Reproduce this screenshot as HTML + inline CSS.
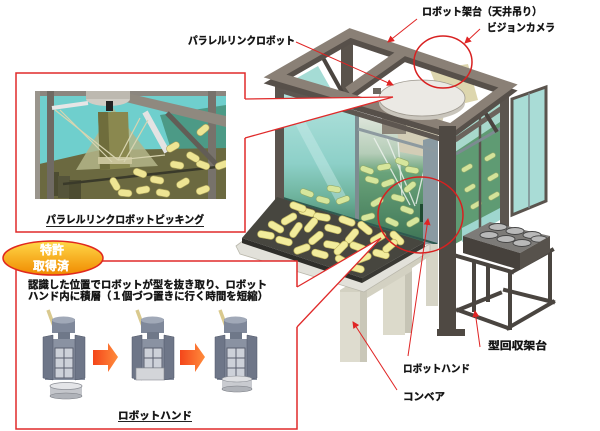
<!DOCTYPE html>
<html><head><meta charset="utf-8">
<style>
html,body{margin:0;padding:0;background:#fff;}
svg{display:block;}
text{font-family:"Liberation Sans","Noto Sans CJK JP",sans-serif;font-weight:bold;fill:#141414;stroke:#141414;stroke-width:0.35;}
</style></head><body>
<svg width="600" height="431" viewBox="0 0 600 431" xmlns="http://www.w3.org/2000/svg">
<defs>
 <linearGradient id="glassL" x1="0" y1="0" x2="0" y2="1">
  <stop offset="0" stop-color="#b3e3de"/><stop offset="0.55" stop-color="#8dd0c8"/><stop offset="0.8" stop-color="#6fb49e"/><stop offset="1" stop-color="#4f8e74"/>
 </linearGradient>
 <linearGradient id="glassR" x1="0" y1="0" x2="0" y2="1">
  <stop offset="0" stop-color="#dfe6dc"/><stop offset="0.3" stop-color="#b5cdb8"/><stop offset="0.45" stop-color="#6aa37a"/><stop offset="1" stop-color="#3e7556"/>
 </linearGradient>
 <linearGradient id="ovalG" x1="0" y1="0" x2="0" y2="1">
  <stop offset="0" stop-color="#ffd848"/><stop offset="1" stop-color="#f08a00"/>
 </linearGradient>
 <linearGradient id="arrowG" x1="0" y1="0" x2="1" y2="0">
  <stop offset="0" stop-color="#f4461a"/><stop offset="1" stop-color="#ff8c3c"/>
 </linearGradient>
 <marker id="ah" markerWidth="7" markerHeight="7" refX="6" refY="3.5" orient="auto" markerUnits="userSpaceOnUse">
  <path d="M0,0 L7,3.5 L0,7 z" fill="#e02424"/>
 </marker>
 <clipPath id="insetClip"><rect x="35" y="91" width="191" height="108"/></clipPath>
</defs>
<rect width="600" height="431" fill="#fff"/>

<!-- ===== MAIN MACHINE ===== -->
<!-- right extension door -->
<polygon points="512,99 546,87 546,201 512,215" fill="#a9dcd6" stroke="#5b544e" stroke-width="3"/>
<line x1="529" y1="93" x2="529" y2="208" stroke="#7a8a8e" stroke-width="1.5"/>
<!-- right face -->
<polygon points="455,130 503,96 503,218 455,244" fill="#5f9b73"/>
<polygon points="455,126 503,94 503,120 455,152" fill="#a8d8cc"/>
<polygon points="462,228 500,208 500,220 462,242" fill="#9fd6cf"/>
<g fill="#d3e39a" stroke="#94ab6c" stroke-width="0.6">
 <rect x="-6" y="-2.5" width="12" height="5" rx="2.5" transform="translate(467,168) rotate(-30)"/>
 <rect x="-6" y="-2.5" width="12" height="5" rx="2.5" transform="translate(490,157) rotate(-30)"/>
 <rect x="-6" y="-2.5" width="12" height="5" rx="2.5" transform="translate(470,188) rotate(-30)"/>
 <rect x="-6" y="-2.5" width="12" height="5" rx="2.5" transform="translate(493,177) rotate(-30)"/>
 <rect x="-6" y="-2.5" width="12" height="5" rx="2.5" transform="translate(476,205) rotate(-30)"/>
 <rect x="-6" y="-2.5" width="12" height="5" rx="2.5" transform="translate(494,196) rotate(-30)"/>
</g>
<line x1="480" y1="112" x2="480" y2="233" stroke="#5b544e" stroke-width="2.5"/>
<line x1="455" y1="140" x2="505" y2="106" stroke="#6b635c" stroke-width="5"/>
<line x1="456" y1="154" x2="503" y2="127" stroke="#7c8b91" stroke-width="3"/>

<!-- see-through top openings -->
<polygon points="283,86 318,66 335,96 290,104" fill="#a5dcd5"/>
<rect x="341" y="40" width="12" height="54" fill="#5a534c"/>
<line x1="322" y1="56" x2="342" y2="92" stroke="#4b4540" stroke-width="4"/>
<polygon points="430,70 468,64 478,100 445,108" fill="#ddd6ae"/>
<line x1="480" y1="104" x2="497" y2="132" stroke="#4b4540" stroke-width="4"/>

<!-- front face panels -->
<polygon points="283,92 356,114 356,222 283,199" fill="url(#glassL)"/>
<polygon points="292,118 300,112 346,196 337,203" fill="#cdeeea" opacity="0.45"/>
<polygon points="358,115 424,135 424,243 358,222" fill="url(#glassR)"/>
<!-- robot internals -->
<polygon points="395,115 445,112 432,158 400,152" fill="#d3cdb6"/>
<rect x="382" y="114" width="24" height="20" fill="#8b8478"/>
<g stroke="#eef3ee" stroke-width="1.3" opacity="0.85">
 <line x1="374" y1="138" x2="410" y2="205"/>
 <line x1="386" y1="136" x2="415" y2="206"/>
 <line x1="398" y1="140" x2="402" y2="196"/>
 <line x1="430" y1="145" x2="416" y2="204"/>
</g>
<!-- interior pills -->
<g fill="#d6e69c" stroke="#8fa868" stroke-width="0.6">
 <rect x="-7" y="-3" width="14" height="6" rx="3" transform="translate(372,180) rotate(15)"/>
 <rect x="-7" y="-3" width="14" height="6" rx="3" transform="translate(388,183) rotate(-20)"/>
 <rect x="-7" y="-3" width="14" height="6" rx="3" transform="translate(367,170) rotate(20)"/>
 <rect x="-7" y="-3" width="14" height="6" rx="3" transform="translate(377,202) rotate(-30)"/>
 <rect x="-7" y="-3" width="14" height="6" rx="3" transform="translate(398,198) rotate(15)"/>
 <rect x="-7" y="-3" width="14" height="6" rx="3" transform="translate(410,187) rotate(-40)"/>
 <rect x="-7" y="-3" width="14" height="6" rx="3" transform="translate(412,170) rotate(10)"/>
 <rect x="-7" y="-3" width="14" height="6" rx="3" transform="translate(407,210) rotate(20)"/>
 <rect x="-7" y="-3" width="14" height="6" rx="3" transform="translate(368,217) rotate(-15)"/>
 <rect x="-7" y="-3" width="14" height="6" rx="3" transform="translate(392,222) rotate(25)"/>
 <rect x="-7" y="-3" width="14" height="6" rx="3" transform="translate(413,222) rotate(-30)"/>
 <rect x="-7" y="-3" width="14" height="6" rx="3" transform="translate(402,162) rotate(20)"/>
 <rect x="-7" y="-3" width="14" height="6" rx="3" transform="translate(384,167) rotate(-10)"/>
 <rect x="-7" y="-3" width="14" height="6" rx="3" transform="translate(323,200) rotate(15)"/>
 <rect x="-7" y="-3" width="14" height="6" rx="3" transform="translate(343,200) rotate(-20)"/>
 <rect x="-7" y="-3" width="14" height="6" rx="3" transform="translate(334,189) rotate(10)"/>
 <rect x="-7" y="-3" width="14" height="6" rx="3" transform="translate(307,193) rotate(20)"/>
</g>
<rect x="420" y="204" width="3" height="18" fill="#1e4a30"/>
<!-- front frame members -->
<polygon points="423,140 438,136 438,248 423,244" fill="#8a9aa2"/>
<line x1="357" y1="112" x2="357" y2="222" stroke="#7d8b90" stroke-width="4"/>
<line x1="358" y1="129" x2="436" y2="151" stroke="#8d9aa0" stroke-width="3"/>
<line x1="279" y1="90" x2="447" y2="141" stroke="#5d5650" stroke-width="5"/>
<line x1="283" y1="198" x2="437" y2="244" stroke="#2f5a50" stroke-width="2"/>
<!-- posts -->
<rect x="275" y="78" width="9" height="126" fill="#5b544e"/>
<rect x="500" y="86" width="9" height="142" fill="#5b544e"/>

<!-- top frame -->
<path d="M275,76 L350,33 L508,86 L451,128 Z M403,52 L348,91" fill="none" stroke="#57504a" stroke-width="9" stroke-linejoin="miter" transform="translate(0,6)"/>
<path d="M275,76 L350,33 L508,86 L451,128 Z M403,52 L348,91" fill="none" stroke="#8a8076" stroke-width="9" stroke-linejoin="miter"/>
<!-- dome -->
<ellipse cx="422" cy="103" rx="43" ry="17" fill="#c9c5bc"/>
<ellipse cx="422" cy="98" rx="43" ry="18" fill="#ebe9e4" stroke="#9e998f" stroke-width="0.8"/>
<rect x="373" y="88" width="8" height="6" fill="#6d675f"/>

<!-- conveyor under-structure -->
<rect x="426" y="244" width="12" height="62" fill="#d6d4c6"/>
<rect x="383" y="262" width="22" height="73" fill="#dcdacb"/>
<rect x="405" y="260" width="7" height="73" fill="#c6c4b5"/>
<polygon points="340,290 383,264 412,262 412,271 367,298 340,298" fill="#d3d1c2"/>
<rect x="340" y="292" width="20" height="70" fill="#dedccf"/>
<rect x="360" y="290" width="7" height="72" fill="#c9c7b8"/>
<polygon points="405,262 430,246 430,256 412,268" fill="#d0cebf"/>
<polygon points="236,246 244,240 362,281 430,244 430,251 364,292 240,254" fill="#e2e1da" stroke="#b9b7ab" stroke-width="0.8"/>
<!-- tray -->
<polygon points="242,238 277,197 425,242 362,278" fill="#47463f"/>
<polygon points="242,238 362,278 362,283 242,243" fill="#2f2e2a"/>
<polygon points="362,278 425,242 425,247 362,283" fill="#3a3934"/>
<g fill="#f2ec9c" stroke="#bdb25e" stroke-width="0.7">
 <rect x="-8.5" y="-3.5" width="17" height="7" rx="3.5" transform="translate(307,212) rotate(15)"/>
 <rect x="-8.5" y="-3.5" width="17" height="7" rx="3.5" transform="translate(289,219) rotate(-30)"/>
 <rect x="-8.5" y="-3.5" width="17" height="7" rx="3.5" transform="translate(322,217) rotate(10)"/>
 <rect x="-8.5" y="-3.5" width="17" height="7" rx="3.5" transform="translate(276,227) rotate(30)"/>
 <rect x="-8.5" y="-3.5" width="17" height="7" rx="3.5" transform="translate(296,230) rotate(-55)"/>
 <rect x="-8.5" y="-3.5" width="17" height="7" rx="3.5" transform="translate(311,225) rotate(-50)"/>
 <rect x="-8.5" y="-3.5" width="17" height="7" rx="3.5" transform="translate(333,229) rotate(15)"/>
 <rect x="-8.5" y="-3.5" width="17" height="7" rx="3.5" transform="translate(347,221) rotate(20)"/>
 <rect x="-8.5" y="-3.5" width="17" height="7" rx="3.5" transform="translate(266,235) rotate(10)"/>
 <rect x="-8.5" y="-3.5" width="17" height="7" rx="3.5" transform="translate(284,241) rotate(15)"/>
 <rect x="-8.5" y="-3.5" width="17" height="7" rx="3.5" transform="translate(316,238) rotate(-40)"/>
 <rect x="-8.5" y="-3.5" width="17" height="7" rx="3.5" transform="translate(332,245) rotate(10)"/>
 <rect x="-8.5" y="-3.5" width="17" height="7" rx="3.5" transform="translate(352,236) rotate(-50)"/>
 <rect x="-8.5" y="-3.5" width="17" height="7" rx="3.5" transform="translate(365,228) rotate(40)"/>
 <rect x="-8.5" y="-3.5" width="17" height="7" rx="3.5" transform="translate(302,249) rotate(-20)"/>
 <rect x="-8.5" y="-3.5" width="17" height="7" rx="3.5" transform="translate(320,254) rotate(15)"/>
 <rect x="-8.5" y="-3.5" width="17" height="7" rx="3.5" transform="translate(341,248) rotate(-45)"/>
 <rect x="-8.5" y="-3.5" width="17" height="7" rx="3.5" transform="translate(358,247) rotate(20)"/>
 <rect x="-8.5" y="-3.5" width="17" height="7" rx="3.5" transform="translate(378,238) rotate(-30)"/>
 <rect x="-8.5" y="-3.5" width="17" height="7" rx="3.5" transform="translate(397,238) rotate(45)"/>
 <rect x="-8.5" y="-3.5" width="17" height="7" rx="3.5" transform="translate(343,261) rotate(30)"/>
 <rect x="-8.5" y="-3.5" width="17" height="7" rx="3.5" transform="translate(363,258) rotate(-20)"/>
 <rect x="-8.5" y="-3.5" width="17" height="7" rx="3.5" transform="translate(381,254) rotate(15)"/>
 <rect x="-8.5" y="-3.5" width="17" height="7" rx="3.5" transform="translate(390,246) rotate(-40)"/>
 <rect x="-8.5" y="-3.5" width="17" height="7" rx="3.5" transform="translate(356,268) rotate(15)"/>
 <rect x="-8.5" y="-3.5" width="17" height="7" rx="3.5" transform="translate(298,207) rotate(20)"/>
</g>

<!-- mold recovery rack -->
<g stroke="#4a4540" stroke-width="4" fill="none" stroke-linecap="square">
 <line x1="457" y1="256" x2="512" y2="272"/>
 <line x1="512" y1="272" x2="552" y2="250"/>
 <line x1="474" y1="262" x2="474" y2="310"/>
 <line x1="510" y1="272" x2="510" y2="328"/>
 <line x1="550" y1="251" x2="550" y2="303"/>
 <line x1="488" y1="266" x2="488" y2="300"/>
 <line x1="458" y1="310" x2="508" y2="328"/>
 <line x1="508" y1="328" x2="553" y2="302"/>
 <line x1="553" y1="302" x2="505" y2="290"/>
 <line x1="458" y1="310" x2="500" y2="293"/>
</g>
<polygon points="463,236 490,222 550,236 520,253" fill="#7d7b78"/>
<g fill="#b9b9b9" stroke="#444" stroke-width="0.9">
 <ellipse cx="498" cy="227" rx="9" ry="3.5"/>
 <ellipse cx="515" cy="231" rx="9" ry="3.5"/>
 <ellipse cx="532" cy="235" rx="9" ry="3.5"/>
 <ellipse cx="489" cy="235" rx="9" ry="3.5"/>
 <ellipse cx="506" cy="239" rx="9" ry="3.5"/>
 <ellipse cx="522" cy="243" rx="9" ry="3.5"/>
 <ellipse cx="539" cy="239" rx="8" ry="3.2"/>
</g>
<polygon points="463,236 520,253 520,270 463,253" fill="#46413c"/>
<polygon points="520,253 550,236 550,252 520,270" fill="#57524c"/>
<!-- front-right post -->
<rect x="439" y="126" width="17" height="210" fill="#4f4943"/>
<rect x="437" y="329" width="28" height="7" fill="#4f4943"/>

<!-- ===== CALLOUT 1 ===== -->
<rect x="16" y="73" width="229" height="159" fill="#fff"/>
<polygon points="245,99 393,97 245,138" fill="#fff"/>
<path d="M245,99 L245,73 L16,73 L16,232 L245,232 L245,138" fill="none" stroke="#e02a2a" stroke-width="1.5"/>
<line x1="245" y1="99" x2="393" y2="97" stroke="#e02a2a" stroke-width="1.3"/>
<line x1="245" y1="138" x2="393" y2="97" stroke="#e02a2a" stroke-width="1.3"/>
<!-- inset photo -->
<g clip-path="url(#insetClip)">
 <rect x="35" y="91" width="191" height="108" fill="#6fcfcd"/>
 <polygon points="160,115 226,105 226,172 175,162" fill="#4c9a86"/>
 <polygon points="35,165 100,150 226,148 226,199 35,199" fill="#6b6940"/>
 <polygon points="113,108 76,170 158,166" fill="#b4b68a" opacity="0.85"/>
 <polygon points="98,112 128,112 130,168 100,170" fill="#8a884f"/>
 <polygon points="98,112 108,112 110,169 100,170" fill="#6f6d3c"/>
 <rect x="98" y="157" width="34" height="7" fill="#c9c49a"/>
 <rect x="47" y="172" width="12" height="24" fill="#4d4c31"/>
 <rect x="58" y="176" width="12" height="22" fill="#55543a"/>
 <rect x="69" y="180" width="12" height="20" fill="#4d4c31"/>
 <rect x="35" y="91" width="191" height="5" fill="#8b867f"/>
 <rect x="35" y="91" width="5" height="108" fill="#9a958d"/>
 <rect x="47" y="91" width="7" height="108" fill="#6f6a63"/>
 <rect x="208" y="91" width="8" height="108" fill="#77726b"/>
 <polygon points="118,91 226,116 226,127 118,100" fill="#8f897f"/>
 <line x1="167" y1="113" x2="218" y2="166" stroke="#625d56" stroke-width="5"/>
 <line x1="63" y1="184" x2="226" y2="166" stroke="#3a3a2a" stroke-width="2.5"/>
 <ellipse cx="108" cy="99" rx="22" ry="7" fill="#d0cdc5"/>
 <rect x="86" y="91" width="44" height="8" fill="#bdb9b0"/>
 <rect x="106" y="101" width="7" height="10" fill="#222"/>
 <line x1="52" y1="108" x2="88" y2="103" stroke="#e6e6e6" stroke-width="4"/>
 <line x1="145" y1="112" x2="167" y2="152" stroke="#e3e3e3" stroke-width="6"/>
 <g stroke="#d8d4b0" stroke-width="1.2">
  <line x1="55" y1="110" x2="118" y2="160"/>
  <line x1="60" y1="110" x2="112" y2="162"/>
  <line x1="140" y1="118" x2="118" y2="160"/>
  <line x1="148" y1="120" x2="124" y2="162"/>
  <line x1="118" y1="160" x2="165" y2="155"/>
 </g>
 <g fill="#eee594" stroke="#aaa058" stroke-width="0.6">
  <rect x="-7" y="-3.5" width="14" height="7" rx="3.5" transform="translate(140,173) rotate(20)"/>
  <rect x="-7" y="-3.5" width="14" height="7" rx="3.5" transform="translate(157,180) rotate(10)"/>
  <rect x="-7" y="-3.5" width="14" height="7" rx="3.5" transform="translate(183,183) rotate(-30)"/>
  <rect x="-7" y="-3.5" width="14" height="7" rx="3.5" transform="translate(203,190) rotate(-20)"/>
  <rect x="-7" y="-3.5" width="14" height="7" rx="3.5" transform="translate(163,193) rotate(10)"/>
  <rect x="-7" y="-3.5" width="14" height="7" rx="3.5" transform="translate(143,190) rotate(-10)"/>
  <rect x="-7" y="-3.5" width="14" height="7" rx="3.5" transform="translate(125,193) rotate(5)"/>
  <rect x="-7" y="-3.5" width="14" height="7" rx="3.5" transform="translate(115,184) rotate(60)"/>
  <rect x="-7" y="-3.5" width="14" height="7" rx="3.5" transform="translate(203,165) rotate(20)"/>
  <rect x="-7" y="-3.5" width="14" height="7" rx="3.5" transform="translate(173,147) rotate(-30)"/>
  <rect x="-7" y="-3.5" width="14" height="7" rx="3.5" transform="translate(193,157) rotate(30)"/>
  <rect x="-7" y="-3.5" width="14" height="7" rx="3.5" transform="translate(203,130) rotate(-40)"/>
  <rect x="-7" y="-3.5" width="14" height="7" rx="3.5" transform="translate(177,165) rotate(10)"/>
  <rect x="-7" y="-3.5" width="14" height="7" rx="3.5" transform="translate(222,165) rotate(-20)"/>
 </g>
</g>
<text x="46" y="223" font-size="10.5" textLength="158" lengthAdjust="spacingAndGlyphs">パラレルリンクロボットピッキング</text>
<line x1="46" y1="226.5" x2="204" y2="226.5" stroke="#222" stroke-width="1"/>

<!-- ===== CALLOUT 2 ===== -->
<rect x="16" y="261" width="281" height="168" fill="#fff"/>
<polygon points="297,287 381,238 297,327" fill="#fff"/>
<line x1="297" y1="287" x2="381" y2="238" stroke="#e02a2a" stroke-width="1.3"/>
<line x1="297" y1="327" x2="381" y2="238" stroke="#e02a2a" stroke-width="1.3"/>
<path d="M297,287 L297,261 L96,261 M16,270 L16,429 L297,429 L297,327" fill="none" stroke="#e02a2a" stroke-width="1.5"/>
<ellipse cx="53" cy="258" rx="50" ry="17" fill="url(#ovalG)" stroke="#e0281e" stroke-width="1.5"/>
<text x="52" y="254" font-size="12" text-anchor="middle" style="fill:#fff;stroke:#fff;stroke-width:0.4">特許</text>
<text x="51" y="270" font-size="12" text-anchor="middle" style="fill:#fff;stroke:#fff;stroke-width:0.4">取得済</text>
<text x="28" y="288" font-size="10.5" textLength="239" lengthAdjust="spacingAndGlyphs">認識した位置でロボットが型を抜き取り、ロボット</text>
<text x="28" y="299.5" font-size="10.5" textLength="240" lengthAdjust="spacingAndGlyphs">ハンド内に積層（１個づつ置きに行く時間を短縮）</text>

<!-- robot hands -->
<g id="hand">
 <line x1="48" y1="310" x2="55" y2="329" stroke="#d9c98e" stroke-width="3.5"/>
 <rect x="52" y="319" width="23" height="14" fill="#7f889a"/>
 <ellipse cx="63.5" cy="320" rx="11.5" ry="3.5" fill="#a1a9b8"/>
 <rect x="58" y="332" width="12" height="10" fill="#6f7889"/>
 <rect x="45" y="339" width="40" height="41" fill="#8a92a2"/>
 <polygon points="43,337 53,335 53,380 43,378" fill="#6e7688" stroke="#4e5566" stroke-width="0.5"/>
 <polygon points="75,335 85,337 85,378 75,380" fill="#6e7688" stroke="#4e5566" stroke-width="0.5"/>
 <rect x="55" y="348" width="18" height="30" fill="#cdd1d9" stroke="#5a6070" stroke-width="1"/>
 <line x1="55" y1="358" x2="73" y2="358" stroke="#5a6070"/>
 <line x1="55" y1="368" x2="73" y2="368" stroke="#5a6070"/>
 <line x1="64" y1="348" x2="64" y2="378" stroke="#5a6070"/>
</g>
<rect x="50" y="386" width="32" height="10" fill="#c4c6cb"/>
<ellipse cx="66" cy="396" rx="16" ry="3" fill="#b0b3b9" stroke="#7a7d84" stroke-width="0.6"/>
<ellipse cx="66" cy="386" rx="16" ry="3.5" fill="#e4e5e8" stroke="#8a8d94" stroke-width="0.8"/>

<use href="#hand" transform="translate(89,0)"/>
<rect x="136" y="368" width="28" height="12" fill="#d3d5d9" stroke="#8a8d94" stroke-width="0.6"/>

<use href="#hand" transform="translate(172,0)"/>
<rect x="222" y="379" width="30" height="10" fill="#c9cbd0"/>
<ellipse cx="237" cy="389" rx="15" ry="3" fill="#b0b3b9" stroke="#7a7d84" stroke-width="0.6"/>
<ellipse cx="237" cy="379" rx="15" ry="3" fill="#dfe0e3" stroke="#8a8d94" stroke-width="0.6"/>

<polygon points="93,350 108,350 108,343 118,357 108,372 108,365 93,365" fill="url(#arrowG)"/>
<polygon points="180,350 195,350 195,343 205,357 195,372 195,365 180,365" fill="url(#arrowG)"/>

<text x="118" y="419" font-size="10.5" textLength="74" lengthAdjust="spacingAndGlyphs">ロボットハンド</text>
<line x1="118" y1="421.5" x2="192" y2="421.5" stroke="#222" stroke-width="1"/>

<!-- red circles -->
<ellipse cx="443" cy="62" rx="29" ry="26" fill="none" stroke="#d82020" stroke-width="1.5"/>
<ellipse cx="420.5" cy="215" rx="42.5" ry="38" fill="none" stroke="#d82020" stroke-width="1.5"/>

<!-- pointer arrows -->
<g stroke="#e02424" stroke-width="1" fill="none" marker-end="url(#ah)">
 <line x1="296" y1="42" x2="393" y2="85"/>
 <line x1="417" y1="19" x2="388" y2="42"/>
 <line x1="480" y1="29" x2="465" y2="43"/>
 <line x1="408" y1="356" x2="428" y2="219"/>
 <line x1="397" y1="390" x2="353" y2="322"/>
 <line x1="480" y1="347" x2="475" y2="311"/>
</g>

<!-- labels -->
<text x="422" y="15" font-size="10.5" textLength="120" lengthAdjust="spacingAndGlyphs">ロボット架台（天井吊り）</text>
<text x="487" y="31" font-size="10.5" textLength="68" lengthAdjust="spacingAndGlyphs">ビジョンカメラ</text>
<text x="188" y="44" font-size="10.5" textLength="107" lengthAdjust="spacingAndGlyphs">パラレルリンクロボット</text>
<text x="488" y="349" font-size="10.5" textLength="59" lengthAdjust="spacingAndGlyphs">型回収架台</text>
<text x="403" y="372" font-size="10.5" textLength="67" lengthAdjust="spacingAndGlyphs">ロボットハンド</text>
<text x="403" y="400" font-size="10.5" textLength="42" lengthAdjust="spacingAndGlyphs">コンベア</text>
</svg>
</body></html>
